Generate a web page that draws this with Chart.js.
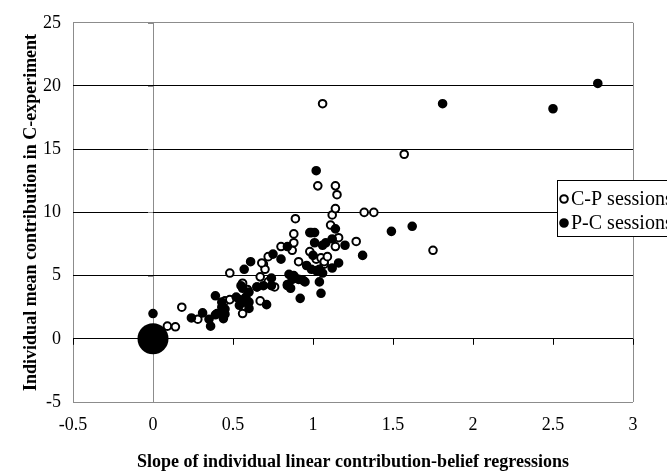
<!DOCTYPE html>
<html>
<head>
<meta charset="utf-8">
<script src="https://cdn.jsdelivr.net/npm/chart.js@4"></script>
<style>
  html, body { margin: 0; padding: 0; background: #fff; }
  #wrap { width: 667px; height: 476px; }
</style>
</head>
<body>
<div id="wrap"><canvas id="myChart" width="667" height="476"></canvas></div>
<script>
// C-P sessions (open circles)
const cpSlope = [0.09, 0.14, 0.18, 0.28, 0.45, 0.48, 0.48, 0.56, 0.56, 0.59, 0.65, 0.67, 0.67, 0.69, 0.70, 0.68,
  0.72, 0.72, 0.76, 0.80, 0.84, 0.87, 0.88, 0.88, 0.89, 0.89, 0.91, 0.98, 0.99, 1.02, 1.05, 1.07, 1.07, 1.09,
  1.14, 1.16, 1.11, 1.12, 1.14, 1.15, 1.14, 1.03, 1.27, 1.32, 1.38, 1.06, 1.57, 1.75];
const cpContrib = [1.0, 0.95, 2.5, 1.55, 3.0, 3.1, 5.2, 2.0, 4.4, 3.9, 4.1, 3.0, 4.9, 5.9, 5.5, 6.0,
  4.5, 6.5, 4.1, 7.3, 4.3, 7.0, 7.6, 8.3, 9.5, 4.8, 6.1, 6.9, 8.4, 6.3, 6.4, 5.9, 6.1, 6.5,
  7.3, 8.0, 9.0, 9.8, 10.3, 11.4, 12.1, 12.1, 7.7, 10.0, 10.0, 18.6, 14.6, 7.0];

// P-C sessions (filled circles)
const pcSlope = [0, 0.24, 0.31, 0.35, 0.36, 0.39, 0.39, 0.40, 0.43, 0.43, 0.44, 0.45, 0.45, 0.52, 0.54, 0.54,
  0.55, 0.56, 0.57, 0.57, 0.58, 0.58, 0.60, 0.60, 0.60, 0.61, 0.65, 0.69, 0.71, 0.74, 0.74, 0.75, 0.80, 0.84,
  0.84, 0.85, 0.86, 0.87, 0.88, 0.91, 0.92, 0.94, 0.95, 0.96, 0.98, 0.99, 1.00, 1.01, 1.01, 1.02, 1.02, 1.04,
  1.04, 1.05, 1.06, 1.06, 1.08, 1.12, 1.12, 1.14, 1.16, 1.20, 1.31, 1.49, 1.62, 1.81, 2.50, 2.78];
const pcContrib = [2.0, 1.65, 2.05, 1.55, 1.0, 3.4, 1.9, 2.0, 2.5, 2.9, 1.6, 1.95, 2.35, 3.3, 3.1, 2.65,
  4.2, 4.0, 5.5, 2.9, 3.1, 3.3, 2.4, 2.9, 3.7, 6.1, 4.1, 4.2, 2.7, 4.2, 4.8, 6.7, 6.3, 7.3,
  4.2, 5.1, 4.0, 4.7, 5.0, 4.7, 3.2, 4.6, 4.5, 5.8, 8.4, 5.5, 6.6, 7.6, 8.4, 5.4, 13.3, 4.5,
  5.5, 3.6, 5.2, 7.4, 7.6, 5.6, 7.9, 8.7, 6.0, 7.4, 6.6, 8.5, 8.9, 18.6, 18.2, 20.2];

// many subjects at (0,0) -> one big marker
const zeroSlope = [0];
const zeroContrib = [0];

const xTickLabels = ['-0.5', '0', '0.5', '1', '1.5', '2', '2.5', '3'];
const yTickLabels = ['-5', '0', '5', '10', '15', '20', '25'];

function pts(xs, ys) {
  return xs.map((x, i) => ({ x: x, y: ys[i] }));
}

const serif = 'Liberation Serif';
const GRAY = '#8c8c8c';
const R = 3.8;

const axisMarks = {
  id: 'axisMarks',
  beforeDatasetsDraw(chart) {
    const c = chart.ctx, xs = chart.scales.x, ys = chart.scales.y;
    const y0 = ys.getPixelForValue(0), x0 = xs.getPixelForValue(0);
    c.save();
    c.lineWidth = 1;
    c.strokeStyle = '#000';
    c.beginPath();
    xs.ticks.forEach(t => {
      const px = Math.round(xs.getPixelForValue(t.value)) + 0.5;
      c.moveTo(px, y0);
      c.lineTo(px, y0 + 6);
    });
    c.stroke();
    c.strokeStyle = GRAY;
    c.beginPath();
    ys.ticks.forEach(t => {
      const py = Math.round(ys.getPixelForValue(t.value)) + 0.5;
      c.moveTo(x0 - 5, py);
      c.lineTo(x0, py);
    });
    c.stroke();
    c.restore();
  }
};

const boxLegend = {
  id: 'boxLegend',
  afterDraw(chart) {
    const c = chart.ctx;
    const left = 557, top = 180, bottom = 236;
    c.save();
    c.fillStyle = '#fff';
    c.fillRect(left, top, 130, bottom - top);
    c.strokeStyle = '#000';
    c.lineWidth = 1;
    c.strokeRect(left + 0.5, top + 0.5, 130, bottom - top);
    [0, 1].forEach(i => {
      const ds = chart.data.datasets[i];
      const cy = top + 19 + i * 24;
      c.beginPath();
      c.arc(564, cy, R, 0, Math.PI * 2);
      c.fillStyle = ds.backgroundColor;
      c.fill();
      c.lineWidth = 2;
      c.strokeStyle = ds.borderColor;
      c.stroke();
      c.fillStyle = '#000';
      c.font = '20px "' + serif + '"';
      c.textBaseline = 'middle';
      c.fillText(ds.label, 571, cy + 1);
    });
    c.restore();
  }
};

const ctx = document.getElementById('myChart');
const myChart = new Chart(ctx, {
  type: 'scatter',
  data: {
    datasets: [
      {
        label: 'C-P sessions',
        data: pts(cpSlope, cpContrib),
        backgroundColor: '#fff',
        borderColor: '#000',
        borderWidth: 2,
        pointRadius: R,
        order: 2
      },
      {
        label: 'P-C sessions',
        data: pts(pcSlope, pcContrib),
        backgroundColor: '#000',
        borderColor: '#000',
        borderWidth: 2,
        pointRadius: R,
        order: 1
      },
      {
        label: 'zero',
        data: pts(zeroSlope, zeroContrib),
        backgroundColor: '#000',
        borderColor: '#000',
        borderWidth: 0,
        pointRadius: 15.5,
        order: 0
      }
    ]
  },
  options: {
    responsive: false,
    animation: false,
    layout: { padding: { left: 0, right: 34, top: 15, bottom: 0 } },
    plugins: {
      legend: { display: false },
      tooltip: { enabled: false }
    },
    scales: {
      x: {
        type: 'linear',
        min: -0.5,
        max: 3,
        afterFit(s) { s.height = 74; },
        border: { display: false },
        grid: {
          drawTicks: false,
          color: c => (c.tick && [-0.5, 0, 3].includes(c.tick.value)) ? GRAY : 'rgba(0,0,0,0)'
        },
        ticks: {
          stepSize: 0.5,
          padding: 12,
          color: '#000',
          font: { family: serif, size: 18 },
          callback: (v, i) => xTickLabels[i]
        },
        title: {
          display: true,
          text: 'Slope of individual linear contribution-belief regressions',
          color: '#000',
          font: { family: serif, size: 18, weight: 'bold' },
          padding: { top: 0, bottom: 3 }
        }
      },
      y: {
        type: 'linear',
        min: -5,
        max: 25,
        afterFit(s) { s.width = 73; },
        border: { display: false },
        grid: {
          drawTicks: false,
          color: c => (c.tick && (c.tick.value === -5 || c.tick.value === 25)) ? GRAY : '#000'
        },
        ticks: {
          stepSize: 5,
          padding: 12,
          color: '#000',
          font: { family: serif, size: 18 },
          callback: (v, i) => yTickLabels[i]
        },
        title: {
          display: true,
          text: 'Individual mean contribution in C-experiment',
          color: '#000',
          font: { family: serif, size: 18, weight: 'bold' },
          padding: { top: 21, bottom: 0 }
        }
      }
    }
  },
  plugins: [axisMarks, boxLegend]
});
</script>
</body>
</html>
